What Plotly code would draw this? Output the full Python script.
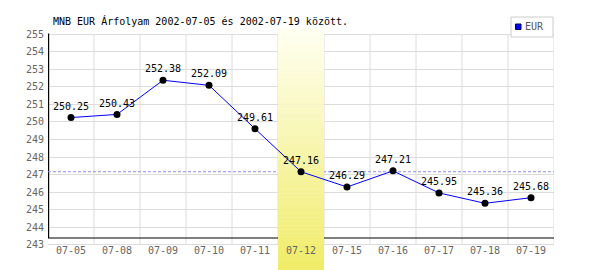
import plotly.graph_objects as go

# ---- data ----
dates = ["07-05", "07-08", "07-09", "07-10", "07-11", "07-12",
         "07-15", "07-16", "07-17", "07-18", "07-19"]
eur = [250.25, 250.43, 252.38, 252.09, 249.61, 247.16,
       246.29, 247.21, 245.95, 245.36, 245.68]
y_ticks = list(range(243, 256))
highlight_day = "07-12"
title_text = "MNB EUR Árfolyam 2002-07-05 és 2002-07-19 között."
series_name = "EUR"

# ---- layout constants ----
W, H = 600, 270
ML, MR = 48, 46
PW = W - ML - MR
Y_LO, Y_HI = 241.555, 256.957
MONO = "DejaVu Sans Mono"
GRID = "#dcdcdc"


def px_x(p):
    return (p - ML) / PW


def px_y(p):
    return 1 - p / H


hi_idx = dates.index(highlight_day)
hi_val = eur[hi_idx]
n = len(dates)

shapes = []
# vertical grid lines at category boundaries
for i in range(n):
    shapes.append(dict(type="line", layer="between", xref="x", yref="y",
                       x0=i + 0.5, x1=i + 0.5, y0=y_ticks[0], y1=y_ticks[-1],
                       line=dict(color=GRID, width=1)))
# black axis lines
axis_y = 243.38
shapes.append(dict(type="line", layer="between", xref="x", yref="y",
                   x0=-0.5, x1=n - 0.5, y0=axis_y, y1=axis_y,
                   line=dict(color="black", width=1.2)))
shapes.append(dict(type="line", layer="between", xref="x", yref="y",
                   x0=-0.5, x1=-0.5, y0=axis_y, y1=y_ticks[-1] + 0.05,
                   line=dict(color="black", width=2.4)))
# dashed reference line at highlighted day's value
shapes.append(dict(type="line", layer="between", xref="x", yref="y",
                   x0=-0.5, x1=n - 0.5, y0=hi_val, y1=hi_val,
                   line=dict(color="#8c8cf0", width=1, dash="3px,2px")))
# gradient highlight band (strips)
band_top, band_bot = 255.36, Y_LO
c_top = (255, 255, 242)
c_bot = (240, 236, 104)
steps = 60
for k in range(steps):
    t = (k + 0.5) / steps
    c = tuple(round(c_top[j] + (c_bot[j] - c_top[j]) * t) for j in range(3))
    y1 = band_top - (band_top - band_bot) * k / steps
    y0 = band_top - (band_top - band_bot) * (k + 1) / steps
    shapes.append(dict(type="rect", layer="between", xref="x", yref="y",
                       x0=hi_idx - 0.5, x1=hi_idx + 0.5, y0=y0 - 0.01, y1=y1 + 0.01,
                       fillcolor="rgb(%d,%d,%d)" % c, line=dict(width=0)))

# legend box (drawn manually to match compact original)
shapes.append(dict(type="rect", layer="above", xref="paper", yref="paper",
                   x0=px_x(511), x1=px_x(553), y0=px_y(37), y1=px_y(17),
                   fillcolor="white", line=dict(color="#cccccc", width=1)))
shapes.append(dict(type="rect", layer="above", xref="paper", yref="paper",
                   x0=px_x(515.5), x1=px_x(521), y0=px_y(29.5), y1=px_y(24),
                   fillcolor="#0000ff", line=dict(color="#000044", width=1)))

fig = go.Figure()
fig.add_trace(go.Scatter(
    x=dates, y=eur, mode="lines+markers+text", name=series_name,
    line=dict(color="#0000ff", width=1),
    marker=dict(color="black", size=7),
    text=["%.2f" % v for v in eur], textposition="top center",
    textfont=dict(family=MONO, size=10, color="black"),
    showlegend=False, hoverinfo="skip"))

fig.update_layout(
    width=W, height=H,
    margin=dict(l=ML, r=MR, t=0, b=0),
    paper_bgcolor="white", plot_bgcolor="white",
    title=dict(text=title_text, x=53 / W, xanchor="left", xref="container",
               y=1 - 21 / H, yanchor="middle",
               font=dict(family=MONO, size=10, color="black")),
    shapes=shapes,
    annotations=[dict(text=series_name, xref="paper", yref="paper",
                      x=px_x(522.5), y=px_y(27), xanchor="left", yanchor="middle",
                      showarrow=False,
                      font=dict(family=MONO, size=10, color="#555555"))],
    showlegend=False,
    xaxis=dict(type="category", categoryorder="array", categoryarray=dates,
               range=[-0.5, n - 0.5], showgrid=False, zeroline=False,
               showline=False, ticks="", anchor="free", position=(H - 243) / H,
               tickfont=dict(family=MONO, size=10, color="#666666")),
    yaxis=dict(range=[Y_LO, Y_HI], tickvals=y_ticks, showgrid=True,
               gridcolor=GRID, gridwidth=1, zeroline=False, showline=False,
               ticks="", ticklabelstandoff=3,
               tickfont=dict(family=MONO, size=10, color="#666666")),
)

fig.write_html("out.html")
